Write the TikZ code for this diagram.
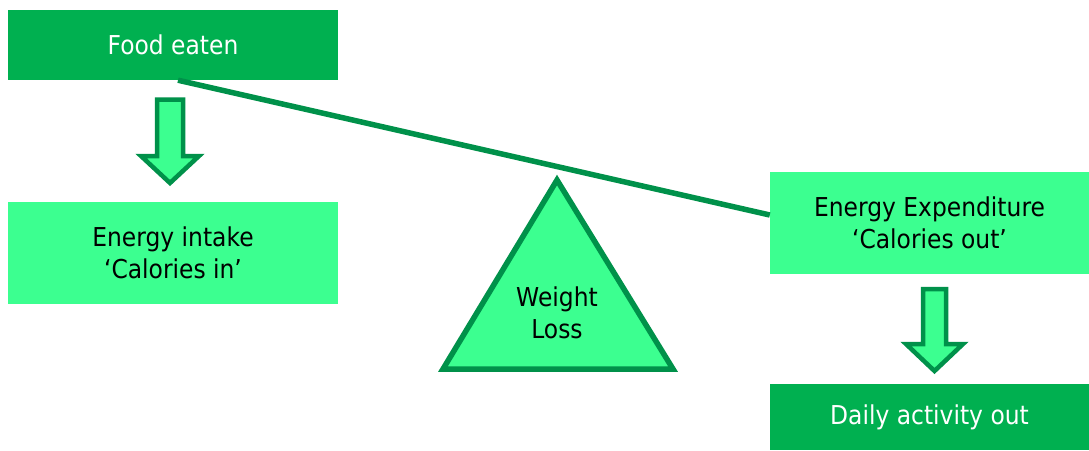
\documentclass[tikz,border=0pt]{standalone}
\usepackage{fontspec}
\setmainfont[FakeStretch=0.9]{DejaVu Sans}
\definecolor{dkgreen}{HTML}{00B050}
\definecolor{ltgreen}{HTML}{3CFF90}
\definecolor{edgegreen}{HTML}{00914A}
\begin{document}
\begin{tikzpicture}[x=1pt,y=-1pt,
  darkbox/.style={fill=dkgreen,text=white,font=\fontsize{26}{32}\selectfont,align=center,inner sep=0pt},
  lightbox/.style={fill=ltgreen,text=black,font=\fontsize{26}{32}\selectfont,align=center,inner sep=0pt},
  fatarrow/.style={draw=edgegreen,fill=ltgreen,line width=4.5pt},
  beam/.style={draw=edgegreen,line width=5.5pt}]
\useasboundingbox (0,0) rectangle (1089,450);
\node[darkbox,minimum width=330pt,minimum height=70pt] (food) at (173,45) {Food eaten};
\node[lightbox,minimum width=330pt,minimum height=102pt] (intake) at (173,253) {Energy intake\\‘Calories in’};
\node[lightbox,minimum width=319pt,minimum height=102pt] (exp) at (929.5,223) {Energy Expenditure\\‘Calories out’};
\node[darkbox,minimum width=319pt,minimum height=66pt] (daily) at (929.5,417) {Daily activity out};
% fulcrum
\draw[beam,fill=ltgreen] (557,180) coordinate (apex) -- (673,369) -- (443,369) -- cycle;
\node[font=\fontsize{26}{32}\selectfont,align=center,inner sep=0pt] (wl) at (557,313) {Weight\\Loss};
% beam
\draw[beam] ([xshift=5pt]food.south) -- ([yshift=8pt]exp.west);
% arrows
\draw[fatarrow] (157,99.5) -- (183,99.5) -- (183,156) -- (199,156) -- (170,183) -- (141,156) -- (157,156) -- cycle;
\draw[fatarrow] (923,289) -- (946,289) -- (946,344) -- (963,344) -- (934.5,371) -- (906,344) -- (923,344) -- cycle;
\end{tikzpicture}
\end{document}
